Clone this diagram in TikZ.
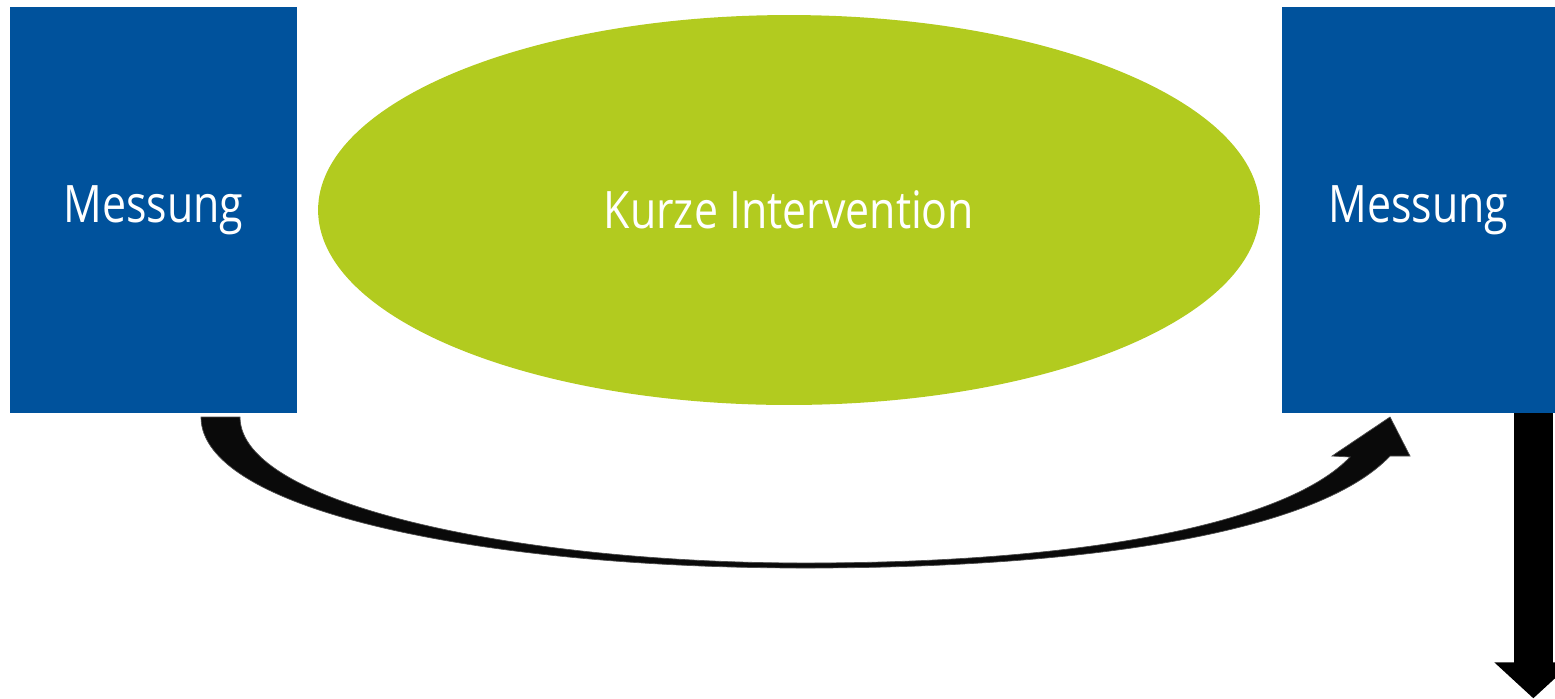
\documentclass[tikz,border=0pt]{standalone}
\usepackage{fontspec}
\setmainfont[FakeStretch=0.83]{Open Sans}
\usetikzlibrary{arrows.meta,positioning,calc,shapes.geometric}
\definecolor{MsrBlue}{RGB}{0,82,156}
\definecolor{MsrGreen}{RGB}{178,203,31}
\definecolor{MsrBlack}{RGB}{10,10,10}
\tikzset{
  msr/box/.style={
    fill=MsrBlue,
    draw=none,
    inner sep=0pt,
    align=center,
    text=white,
    minimum height=8.12cm,
    font=\fontsize{29.4}{35}\selectfont
  },
  msr/oval/.style={
    ellipse,
    fill=MsrGreen,
    draw=none,
    inner sep=0pt,
    align=center,
    text=white,
    minimum width=18.84cm,
    minimum height=7.8cm,
    font=\fontsize{29.4}{35}\selectfont
  },
  msr/bend/.style={fill=MsrBlack, draw=black!70, line width=0.4pt},
  msr/down/.style={-{Triangle[length=0.72cm,width=1.52cm]}, line width=0.78cm, draw=black}
}

\begin{document}
\begin{tikzpicture}[x=0.02cm,y=-0.02cm]
  \useasboundingbox (0,0) rectangle (1555,698);
  \clip (0,0) rectangle (1555,698);
  \node[msr/box,minimum width=5.74cm] (pre) at (153.5,210) {Messung};
  \node[msr/oval] (short) at (789,210) {Kurze Intervention};
  \node[msr/box,minimum width=5.46cm] (post) at (1418.5,210) {Messung};
  % curved arrow under the ellipse
  \coordinate (from) at (201,417);
  \coordinate (to) at (1390,417);
  \fill[msr/bend] (from) -- ++(39,0)
    .. controls (240,505) and (520,563) .. (805,563)
    .. controls (1100,563) and (1290,520) .. (1350,457)
    -- (1332,456) -- (to) -- (1410,456) -- (1390,456)
    .. controls (1320,530) and (1100,568) .. (805,568)
    .. controls (480,568) and (201,510) .. (from) -- cycle;
  \coordinate (out) at ($(post.south east)+(-22,0)$);
  \draw[msr/down] (out) -- ++(0,285);
\end{tikzpicture}
\end{document}
